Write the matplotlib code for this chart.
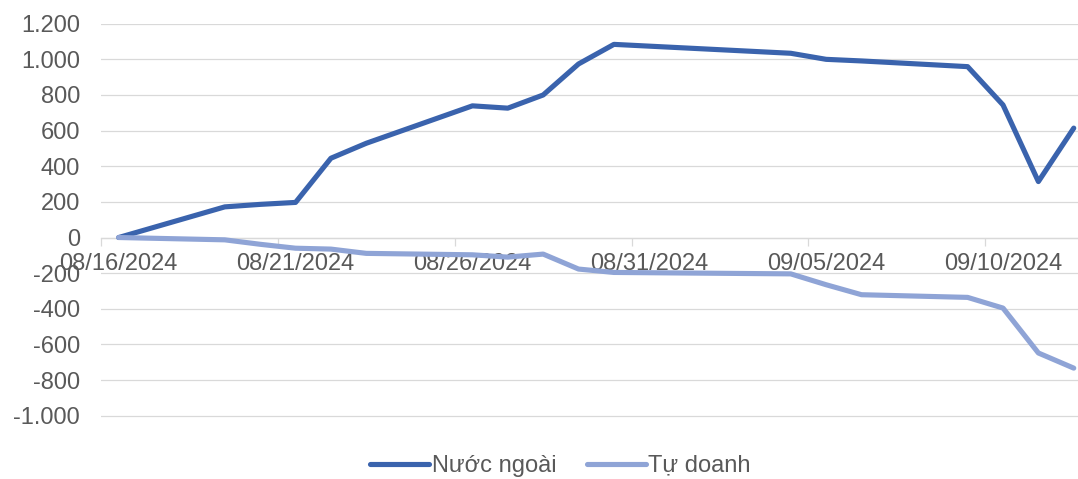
import matplotlib
matplotlib.use("Agg")
import matplotlib.pyplot as plt
import matplotlib.dates as mdates
from matplotlib.ticker import FuncFormatter, FixedLocator
import pandas as pd

dates = ["2024-08-16", "2024-08-19", "2024-08-20", "2024-08-21", "2024-08-22",
         "2024-08-23", "2024-08-26", "2024-08-27", "2024-08-28", "2024-08-29",
         "2024-08-30", "2024-09-04", "2024-09-05", "2024-09-06", "2024-09-09",
         "2024-09-10", "2024-09-11", "2024-09-12"]
nuoc_ngoai = [0, 172, 186, 197, 445, 529, 739, 726, 800, 974,
              1084, 1034, 1000, 991, 959, 744, 314, 614]
tu_doanh = [0, -13, -38, -60, -65, -89, -97, -110, -93, -177,
            -196, -204, -265, -321, -336, -396, -648, -733]
tick_labels = ["08/16/2024", "08/21/2024", "08/26/2024", "08/31/2024",
               "09/05/2024", "09/10/2024"]
series_names = ["Nước ngoài", "Tự doanh"]

plt.rcParams['font.family'] = ['Liberation Sans', 'DejaVu Sans']

x = pd.to_datetime(dates)
fig = plt.figure(figsize=(10.78, 4.79), dpi=100)
ax = fig.add_axes([101/1078, 1-418/479, 1-101/1078, (418-23.7)/479])

c1 = "#3A63AD"
c2 = "#8FA4D6"
ax.plot(x, nuoc_ngoai, color=c1, lw=3.7, solid_capstyle='round',
        solid_joinstyle='round', label=series_names[0], zorder=3)
ax.plot(x, tu_doanh, color=c2, lw=3.7, solid_capstyle='round',
        solid_joinstyle='round', label=series_names[1], zorder=4)

start = x[0]
ax.set_xlim(start - pd.Timedelta(hours=12), start + pd.Timedelta(days=27.12))
ax.set_ylim(-1000 - 2.3 * 1000 / 178.3, 1200)

yt = list(range(-1000, 1201, 200))
ax.set_yticks(yt)
ax.yaxis.set_major_formatter(FuncFormatter(lambda v, p: f"{int(v):,}".replace(",", ".")))
ax.grid(axis='y', color='#D9D9D9', lw=0.9, zorder=0)
ax.set_axisbelow(True)

tick_pos = pd.to_datetime(tick_labels, format="%m/%d/%Y")
ax.set_xticks(tick_pos)
ax.set_xticklabels(tick_labels)
minor = [mdates.date2num(t) - 0.5 for t in tick_pos]
ax.xaxis.set_minor_locator(FixedLocator(minor))

for s in ['top', 'right', 'left']:
    ax.spines[s].set_visible(False)
ax.spines['bottom'].set_position(('data', 0))
ax.spines['bottom'].set_color('#D9D9D9')
ax.spines['bottom'].set_linewidth(0.9)

ax.tick_params(axis='y', length=0, pad=15, labelsize=17, labelcolor='#595959')
ax.tick_params(axis='x', which='major', length=0, pad=11, labelsize=17, labelcolor='#595959')
ax.tick_params(axis='x', which='minor', length=6, width=0.9, color='#D9D9D9', direction='out')

leg = fig.legend(loc='lower center', bbox_to_anchor=(0.52, -0.04), ncol=2,
                 frameon=False, fontsize=17, handlelength=2.5, handletextpad=0.1,
                 columnspacing=1.3, labelcolor='#595959')

fig.savefig("out.png", dpi=100)
